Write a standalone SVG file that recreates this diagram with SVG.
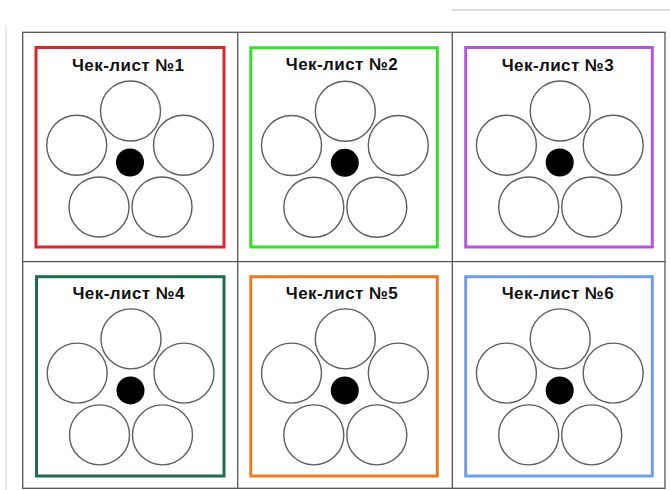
<svg xmlns="http://www.w3.org/2000/svg" xmlns:xlink="http://www.w3.org/1999/xlink" width="670" height="490" viewBox="0 0 670 490">
  <style>
    .grid { fill: none; stroke: #555; stroke-width: 1.3; }
    .frame { fill: #fff; stroke-width: 3; }
    .petal { fill: #fff; stroke: #5e5e5e; stroke-width: 1.4; }
    .core { fill: #000; }
    .title { font-family: "Liberation Sans", Arial, sans-serif; font-weight: bold; font-size: 17px; fill: #111; text-anchor: middle; }
  </style>
  <defs>
    <g id="flower">
      <circle class="petal" cx="94.5" cy="63.5" r="30"/>
      <circle class="petal" cx="40.7" cy="97.7" r="30"/>
      <circle class="petal" cx="147.5" cy="97.7" r="30"/>
      <circle class="petal" cx="63" cy="159.5" r="30"/>
      <circle class="petal" cx="126" cy="159.5" r="30"/>
      <circle class="core" cx="94" cy="115" r="14"/>
    </g>
  </defs>
  <rect width="670" height="490" fill="#fff"/>
  <line x1="452" y1="10" x2="670" y2="10" stroke="#d9dde4" stroke-width="2"/>
  <line x1="6" y1="25" x2="6" y2="490" stroke="#e2e2e2" stroke-width="1.5"/>
  <g id="table">
    <rect class="grid" x="22.7" y="32.3" width="642.3" height="456"/>
    <line class="grid" x1="237.7" y1="32.3" x2="237.7" y2="488.3"/>
    <line class="grid" x1="452.3" y1="32.3" x2="452.3" y2="488.3"/>
    <line class="grid" x1="22.7" y1="261.7" x2="665" y2="261.7"/>
  </g>
  <g id="checklist1" transform="translate(36,47.5)">
    <rect class="frame" x="0" y="0" width="188" height="199.5" stroke="#d8262c"/>
    <text class="title" x="92" y="23" textLength="112">Чек-лист №1</text>
    <use xlink:href="#flower"/>
  </g>
  <g id="checklist2" transform="translate(250.8,47.8)">
    <rect class="frame" x="0" y="0" width="186.5" height="199.2" stroke="#39dc2d"/>
    <text class="title" x="91" y="22.7" textLength="112">Чек-лист №2</text>
    <use xlink:href="#flower"/>
  </g>
  <g id="checklist3" transform="translate(465.7,47.5)">
    <rect class="frame" x="0" y="0" width="186.6" height="199.5" stroke="#b454e4"/>
    <text class="title" x="92" y="23" textLength="112">Чек-лист №3</text>
    <use xlink:href="#flower"/>
  </g>
  <g id="checklist4" transform="translate(36.5,276.7)">
    <rect class="frame" x="0" y="0" width="187.5" height="199.3" stroke="#1f6b4a"/>
    <text class="title" x="92" y="22.7" textLength="112">Чек-лист №4</text>
    <use xlink:href="#flower" transform="translate(0,-1.3)"/>
  </g>
  <g id="checklist5" transform="translate(250.8,276.7)">
    <rect class="frame" x="0" y="0" width="186.5" height="199.3" stroke="#ec7a22"/>
    <text class="title" x="91" y="22.7" textLength="112">Чек-лист №5</text>
    <use xlink:href="#flower" transform="translate(0,-1.3)"/>
  </g>
  <g id="checklist6" transform="translate(465.7,276.7)">
    <rect class="frame" x="0" y="0" width="186.6" height="199.3" stroke="#6f9de8"/>
    <text class="title" x="92" y="22.7" textLength="112">Чек-лист №6</text>
    <use xlink:href="#flower" transform="translate(0,-1.3)"/>
  </g>
</svg>
